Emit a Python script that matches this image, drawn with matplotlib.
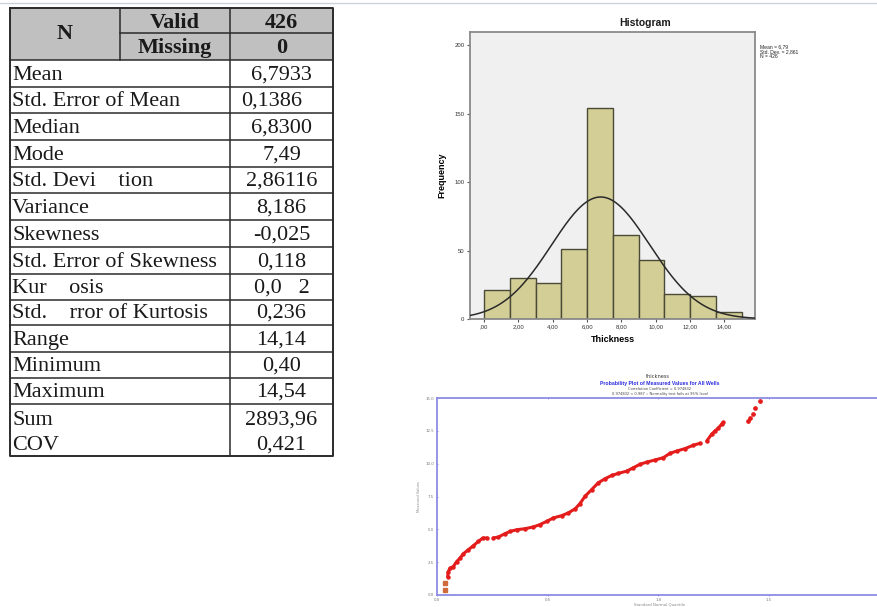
import numpy as np
import matplotlib
matplotlib.use("Agg")
import matplotlib.pyplot as plt
from matplotlib.patches import Rectangle

# ---------------- data ----------------
header_labels = ["Valid", "Missing"]
header_values = ["426", "0"]
stat_labels = ["Mean", "Std. Error of Mean", "Median", "Mode", "Std. Devi    tion",
               "Variance", "Skewness", "Std. Error of Skewness", "Kur    osis",
               "Std.    rror of Kurtosis", "Range", "Minimum", "Maximum", "Sum", "COV"]
stat_values = ["6,7933", "0,1386", "6,8300", "7,49", "2,86116", "8,186", "-0,025",
               "0,118", "0,0   2", "0,236", "14,14", "0,40", "14,54", "2893,96", "0,421"]

hist_edges = [0, 1.5, 3, 4.5, 6, 7.5, 9, 10.5, 12, 13.5, 15]
hist_counts = [21, 30, 26, 51, 154, 61, 43, 18, 17, 5]
hist_mean = 6.79
hist_sd = 2.861
hist_n = 426
hist_xticks = [0, 2, 4, 6, 8, 10, 12, 14]
hist_xticklabels = [",00", "2,00", "4,00", "6,00", "8,00", "10,00", "12,00", "14,00"]
hist_yticks = [0, 50, 100, 150, 200]

# probability plot
prob_low_x = [0.036, 0.036]
prob_low_y = [0.40, 0.90]
prob_seg1_x = [0.048, 0.051, 0.059, 0.074, 0.089, 0.104, 0.119, 0.141, 0.164, 0.187, 0.207, 0.225]
prob_seg1_y = [1.40, 1.78, 2.04, 2.17, 2.55, 2.81, 3.14, 3.44, 3.75, 4.08, 4.34, 4.34]
prob_seg2_x = [0.254, 0.277, 0.307, 0.330, 0.360, 0.398, 0.435, 0.465, 0.496, 0.526, 0.563,
               0.593, 0.624, 0.646, 0.669, 0.699, 0.729, 0.759, 0.789, 0.819, 0.857, 0.887,
               0.917, 0.948, 0.985, 1.023, 1.053, 1.083, 1.121, 1.158, 1.188]
prob_seg2_y = [4.34, 4.41, 4.67, 4.84, 4.97, 5.05, 5.18, 5.36, 5.61, 5.87, 6.04,
               6.25, 6.56, 6.96, 7.52, 8.03, 8.55, 8.85, 9.10, 9.26, 9.43, 9.69,
               9.95, 10.12, 10.28, 10.46, 10.79, 10.96, 11.15, 11.40, 11.55]
prob_seg3_x = [1.219, 1.241, 1.256, 1.271, 1.286, 1.294]
prob_seg3_y = [11.73, 12.24, 12.49, 12.70, 13.01, 13.14]
prob_high_x = [1.407, 1.414, 1.429, 1.437, 1.460]
prob_high_y = [13.26, 13.47, 13.77, 14.21, 14.74]
prob_yticks = [0, 2.5, 5, 7.5, 10, 12.5, 15]
prob_yticklabels = ["0.0", "2.5", "5.0", "7.5", "10.0", "12.5", "15.0"]
prob_xticks = [0, 0.5, 1.0, 1.5]
prob_xticklabels = ["0.0", "0.5", "1.0", "1.5"]

# ---------------- figure ----------------
W, H = 877, 607
fig = plt.figure(figsize=(W / 100, H / 100), dpi=100)
bg = fig.add_axes([0, 0, 1, 1])
bg.set_xlim(0, W)
bg.set_ylim(H, 0)
bg.axis("off")

# faint line at top of image
bg.plot([0, W], [3, 3], color="#c9d3de", lw=1.0)

# ---- table ----
serif = "Liberation Serif"
lc = "#2b2b2b"
L, C1, C2, R = 10, 120, 230, 333
top, mid, hbot = 8, 33, 60
rows = [60, 87, 113, 140, 167, 193, 220, 247, 274, 300, 325, 352, 378, 404, 456]

bg.add_patch(Rectangle((L, top), R - L, hbot - top, facecolor="#c0c0c0", edgecolor="none"))
lw = 1.1
bg.plot([L, R, R, L, L], [top, top, rows[-1], rows[-1], top], color=lc, lw=1.4)
bg.plot([C1, C1], [top, hbot], color=lc, lw=lw)
bg.plot([C2, C2], [top, rows[-1]], color=lc, lw=lw)
bg.plot([C1, R], [mid, mid], color=lc, lw=lw)
for yb in rows[:-1]:
    bg.plot([L, R], [yb, yb], color=lc, lw=lw)

bg.text((L + C1) / 2, 39, "N", fontsize=16, fontweight="bold", family=serif,
        ha="center", va="baseline", color="#1a1a1a")
for i, (lab, val) in enumerate(zip(header_labels, header_values)):
    yb = [top, mid][i] + 20
    bg.text((C1 + C2) / 2, yb, lab, fontsize=16, fontweight="bold", family=serif,
            ha="center", va="baseline", color="#1a1a1a")
    bg.text((C2 + R) / 2, yb, val, fontsize=16, fontweight="bold", family=serif,
            ha="center", va="baseline", color="#1a1a1a")

n_single = len(rows) - 2
for i in range(n_single):
    yb = rows[i + 1] - 7
    bg.text(12, yb, stat_labels[i], fontsize=16, family=serif, ha="left", va="baseline",
            color="#1a1a1a")
    xv = 272 if i == 1 else (C2 + R) / 2
    bg.text(xv, yb, stat_values[i], fontsize=16, family=serif, ha="center", va="baseline",
            color="#1a1a1a")
for j, yb in enumerate([425, 450]):
    k = n_single + j
    bg.text(12, yb, stat_labels[k], fontsize=16, family=serif, ha="left", va="baseline",
            color="#1a1a1a")
    bg.text((C2 + R) / 2, yb, stat_values[k], fontsize=16, family=serif, ha="center",
            va="baseline", color="#1a1a1a")

# ---- histogram ----
sans = "Liberation Sans"
hx0, hx1, hy0, hy1 = 470, 755, 32, 319
ax = fig.add_axes([hx0 / W, 1 - hy1 / H, (hx1 - hx0) / W, (hy1 - hy0) / H])
ax.set_facecolor("#f0f0f0")
ax.bar(hist_edges[:-1], hist_counts, width=np.diff(hist_edges), align="edge",
       color="#d3cd96", edgecolor="#4b4a38", linewidth=1.0, zorder=2)
ax.set_xlim(-0.82, 15.78)
ax.set_ylim(0, 209.6)
xs = np.linspace(-0.82, 15.78, 400)
bw = hist_edges[1] - hist_edges[0]
ys = hist_n * bw / (hist_sd * np.sqrt(2 * np.pi)) * np.exp(-0.5 * ((xs - hist_mean) / hist_sd) ** 2)
ax.plot(xs, ys, color="#2a2a2a", lw=1.1, zorder=3)
for s in ax.spines.values():
    s.set_color("#8a8a8a")
    s.set_linewidth(1.3)
ax.set_xticks(hist_xticks)
ax.set_xticklabels(hist_xticklabels)
ax.set_yticks(hist_yticks)
ax.tick_params(axis="both", labelsize=4.3, length=2.5, width=0.8, color="#555555",
               labelcolor="#333333", pad=1.5)
for t in ax.get_xticklabels() + ax.get_yticklabels():
    t.set_family(sans)
ax.set_xlabel("Thickness", fontsize=6.5, fontweight="bold", family=sans, labelpad=4)
ax.set_ylabel("Frequency", fontsize=6.5, fontweight="bold", family=sans, labelpad=6)
bg.text(645, 23, "Histogram", fontsize=7.5, fontweight="bold", family=sans,
        ha="center", va="center", color="#1a1a1a")
bg.text(760, 44, "Mean = 6,79\nStd. Dev. = 2,861\nN = 426", fontsize=3.6, family=sans,
        ha="left", va="top", color="#222222", linespacing=1.05)

# ---- probability plot ----
px0, px1, py0, py1 = 437, 877, 398, 595
ax2 = fig.add_axes([px0 / W, 1 - py1 / H, (px1 - px0) / W, (py1 - py0) / H])
ax2.set_xlim(0, (px1 - px0) / 221.3)
ax2.set_ylim(0, 15.0)
ax2.set_facecolor("white")
for name, s in ax2.spines.items():
    s.set_color("#8c8ce6")
    s.set_linewidth(1.3)
ax2.spines["right"].set_visible(False)
red = "#e41c1c"
for sx, sy in [(prob_seg1_x, prob_seg1_y), (prob_seg2_x, prob_seg2_y), (prob_seg3_x, prob_seg3_y)]:
    ax2.plot(sx, sy, color=red, lw=2.2, marker="o", ms=2.2, mec=red, mfc=red,
             solid_capstyle="round", zorder=3)
ax2.plot(prob_high_x, prob_high_y, ls="none", marker="o", ms=2.4, color=red, zorder=3)
ax2.plot(prob_low_x, prob_low_y, ls="none", marker="s", ms=2.2, color="#cf6a3c", zorder=3)
ax2.set_xticks(prob_xticks)
ax2.set_xticklabels(prob_xticklabels)
ax2.set_yticks(prob_yticks)
ax2.set_yticklabels(prob_yticklabels)
ax2.tick_params(axis="both", labelsize=2.8, length=1.5, width=0.6, color="#8c8ce6",
                labelcolor="#777777", pad=1.5, top=True, direction="inout")
ax2.set_ylabel("Measured Values", fontsize=2.6, color="#888888", labelpad=3)
bg.text(660, 604, "Standard Normal Quantile", fontsize=2.8, color="#888888",
        ha="center", va="center")
bg.text(658, 376, "thickness", fontsize=3.6, color="#333333", ha="center", va="center")
bg.text(660, 383.5, "Probability Plot of Measured Values for All Wells", fontsize=3.7,
        fontweight="bold", color="#2a2ae0", ha="center", va="center", family=sans)
bg.text(660, 389, "Correlation Coefficient = 0.974832", fontsize=2.6, color="#444444",
        ha="center", va="center")
bg.text(660, 394, "0.974832 < 0.987 :: Normality test fails at 95% level", fontsize=2.6,
        color="#444444", ha="center", va="center")

fig.savefig("out.png", dpi=100)
